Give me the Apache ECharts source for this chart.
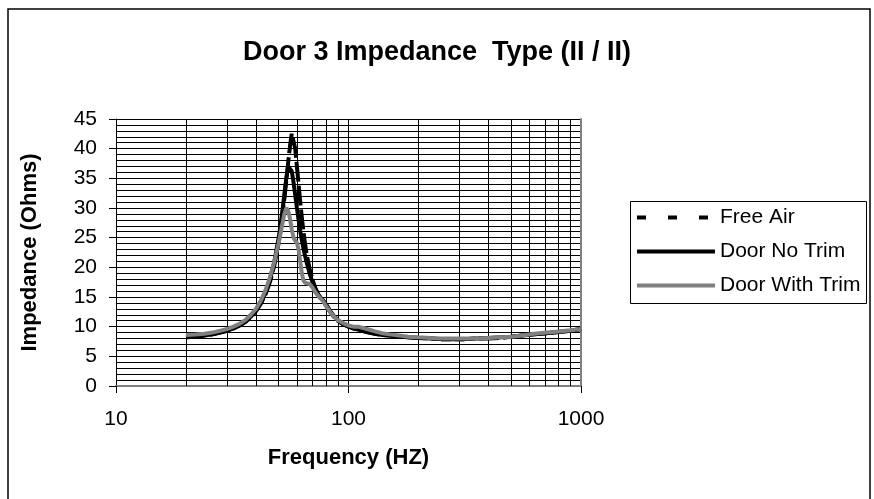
<!DOCTYPE html>
<html>
<head>
<meta charset="utf-8">
<script src="https://cdn.jsdelivr.net/npm/echarts@6/dist/echarts.min.js"></script>
<style>
  html, body { margin: 0; padding: 0; background: #fff; }
  #chart { width: 874px; height: 499px; }
</style>
</head>
<body>
<div id="chart"></div>
<script>
// Measured impedance sweeps (Ohms) against frequency (Hz)
const freqHz = [20, 22, 24, 26, 28, 30, 32, 34, 36, 38, 40, 42, 44, 46, 48, 50, 51, 52, 53, 54,
  55, 56, 57, 58, 59, 60, 61, 62, 63, 64, 65, 66, 68, 70, 72, 74, 76, 78, 80, 83,
  86, 90, 95, 100, 105, 110, 120, 130, 140, 150, 165, 180, 200, 225, 250, 280, 315, 355, 400, 450,
  500, 560, 630, 710, 800, 900, 1000];

const freeAir = [8.2, 8.3, 8.5, 8.7, 9.0, 9.3, 9.7, 10.2, 10.8, 11.6, 12.6, 13.9, 15.5, 17.6, 20.4, 24.0, 26.2, 28.8, 31.6, 34.6,
  37.6, 40.4, 42.5, 42.2, 40.0, 37.0, 34.0, 31.0, 28.4, 26.0, 24.0, 22.3, 19.8, 17.9, 16.5, 15.5, 14.8, 14.3, 13.6, 12.6,
  11.8, 11.0, 10.4, 10.0, 9.7, 9.5, 9.1, 8.8, 8.6, 8.5, 8.3, 8.2, 8.1, 8.0, 7.9, 7.9, 7.9, 8.0, 8.0, 8.1,
  8.3, 8.5, 8.7, 8.9, 9.1, 9.3, 9.6];

const doorNoTrim = [8.2, 8.3, 8.5, 8.7, 9.0, 9.3, 9.7, 10.2, 10.8, 11.7, 12.7, 14.0, 15.8, 18.0, 21.0, 24.8, 27.0, 29.6, 32.4, 35.0,
  37.0, 37.3, 36.2, 34.4, 32.2, 30.0, 28.0, 26.2, 24.6, 23.2, 22.0, 20.9, 19.0, 17.5, 16.3, 15.4, 14.8, 14.4, 13.8, 12.8,
  11.9, 11.1, 10.4, 10.0, 9.7, 9.5, 9.1, 8.8, 8.6, 8.5, 8.3, 8.2, 8.1, 8.0, 7.9, 7.9, 7.9, 8.0, 8.1, 8.2,
  8.3, 8.5, 8.7, 8.9, 9.1, 9.3, 9.6];

const doorWithTrim = [8.6, 8.7, 8.8, 9.0, 9.3, 9.6, 10.0, 10.5, 11.1, 12.0, 13.0, 14.4, 16.2, 18.4, 21.0, 24.0, 25.7, 27.4, 29.0, 30.0,
  29.6, 28.2, 26.4, 25.0, 24.5, 24.1, 23.0, 21.0, 19.0, 17.8, 17.4, 17.3, 17.2, 16.6, 15.8, 15.2, 14.7, 14.2, 13.5, 12.6,
  11.8, 11.1, 10.6, 10.2, 10.0, 10.0, 9.6, 9.2, 8.9, 8.7, 8.5, 8.3, 8.2, 8.1, 8.0, 8.0, 8.0, 8.0, 8.1, 8.2,
  8.3, 8.5, 8.8, 9.0, 9.2, 9.4, 9.6];

// Minor frequency gridlines between the decades
const minorFreqLines = [20, 30, 40, 50, 60, 70, 80, 90, 200, 300, 400, 500, 600, 700, 800, 900];

const FONT = 'Liberation Sans, Arial, sans-serif';

function pairs(values) {
  return freqHz.map((f, i) => [f, values[i]]);
}

const chart = echarts.init(document.getElementById('chart'), null, { renderer: 'canvas' });

chart.setOption({
  animation: false,
  backgroundColor: '#ffffff',
  title: {
    text: 'Door 3 Impedance  Type (II / II)',
    left: 'center',
    top: 34,
    textStyle: { fontFamily: FONT, fontSize: 27, fontWeight: 'bold', color: '#000' }
  },
  grid: { left: 116, right: 293, top: 119, bottom: 113, show: false },
  legend: {
    orient: 'vertical',
    left: 630,
    top: 201,
    itemWidth: 78,
    itemHeight: 14,
    itemGap: 13,
    padding: [6, 6, 6, 5],
    borderWidth: 0,
    itemStyle: { opacity: 0 },
    textStyle: { fontFamily: FONT, fontSize: 21, lineHeight: 21, color: '#000' },
    data: [
      { name: 'Free Air', lineStyle: { type: [9, 22], width: 4, color: '#000' } },
      { name: 'Door No Trim', lineStyle: { type: 'solid', width: 4, color: '#000' } },
      { name: 'Door With Trim', lineStyle: { type: 'solid', width: 4, color: '#808080' } }
    ]
  },
  xAxis: [
    {
      type: 'log',
      logBase: 10,
      min: 10,
      max: 1000,
      name: 'Frequency (HZ)',
      nameLocation: 'middle',
      nameGap: 61,
      nameTextStyle: { fontFamily: FONT, fontSize: 22, fontWeight: 'bold', color: '#000' },
      axisLine: { show: true, lineStyle: { color: '#000', width: 1 } },
      axisTick: { show: true, inside: false, length: 7, lineStyle: { color: '#000' } },
      axisLabel: { fontFamily: FONT, fontSize: 21, color: '#000', margin: 23, formatter: v => String(v) },
      splitLine: { show: true, lineStyle: { color: '#000', width: 1 } }
    },
    {
      type: 'log', logBase: 10, min: 10, max: 1000, position: 'top',
      axisLine: { show: true, lineStyle: { color: '#808080', width: 2 } },
      axisTick: { show: false }, axisLabel: { show: false }, splitLine: { show: false }
    }
  ],
  yAxis: [
    {
      type: 'value',
      min: 0,
      max: 45,
      interval: 5,
      name: 'Impedance (Ohms)',
      nameLocation: 'middle',
      nameGap: 75,
      nameTextStyle: { fontFamily: FONT, fontSize: 22, fontWeight: 'bold', color: '#000' },
      axisLine: { show: true, lineStyle: { color: '#000', width: 1 } },
      axisTick: { show: true, inside: false, length: 7, lineStyle: { color: '#000' } },
      axisLabel: { fontFamily: FONT, fontSize: 21, color: '#000', margin: 19 },
      splitLine: { show: true, lineStyle: { color: '#000', width: 1 } },
      minorTick: { show: false, splitNumber: 5 },
      minorSplitLine: { show: true, lineStyle: { color: '#000', width: 1 } }
    },
    {
      type: 'value', min: 0, max: 45, interval: 5, position: 'right',
      axisLine: { show: true, lineStyle: { color: '#808080', width: 2 } },
      axisTick: { show: false }, axisLabel: { show: false }, splitLine: { show: false }
    }
  ],
  graphic: [
    {
      // legend frame
      type: 'rect',
      silent: true,
      z: 0,
      shape: { x: 630.5, y: 201.5, width: 236, height: 102 },
      style: { fill: '#fff', stroke: '#000', lineWidth: 1 }
    },
    {
      // chart area border
      type: 'rect',
      silent: true,
      z: 100,
      shape: { x: 8, y: 9, width: 862, height: 500 },
      style: { fill: 'none', stroke: '#000', lineWidth: 1.5 }
    }
  ],
  series: [
    {
      name: 'frequency grid',
      type: 'line',
      data: [],
      z: 1,
      silent: true,
      markLine: {
        silent: true,
        symbol: 'none',
        label: { show: false },
        lineStyle: { color: '#000', width: 1, type: 'solid' },
        data: minorFreqLines.map(f => ({ xAxis: f }))
      }
    },
    {
      name: 'Free Air',
      type: 'line',
      z: 3,
      showSymbol: false,
      symbol: 'none',
      data: pairs(freeAir),
      lineStyle: { color: '#000', width: 4, type: [20, 4] },
      itemStyle: { color: '#000' }
    },
    {
      name: 'Door No Trim',
      type: 'line',
      z: 4,
      showSymbol: false,
      symbol: 'none',
      data: pairs(doorNoTrim),
      lineStyle: { color: '#000', width: 4 },
      itemStyle: { color: '#000' }
    },
    {
      name: 'Door With Trim',
      type: 'line',
      z: 5,
      showSymbol: false,
      symbol: 'none',
      data: pairs(doorWithTrim),
      lineStyle: { color: '#808080', width: 4 },
      itemStyle: { color: '#808080' }
    }
  ]
});
</script>
</body>
</html>
